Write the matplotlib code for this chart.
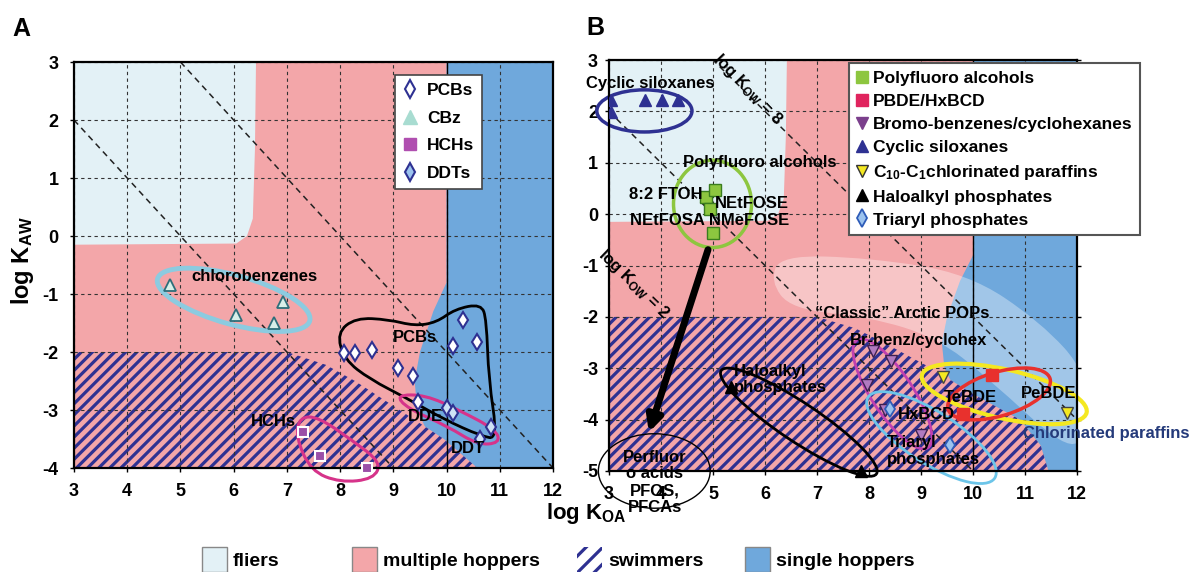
import numpy as np
import matplotlib
matplotlib.use('Agg')
import matplotlib.pyplot as plt
from matplotlib.patches import Ellipse, PathPatch, Rectangle
from matplotlib.path import Path
from matplotlib.lines import Line2D

plt.rcParams['font.family'] = ['Liberation Sans', 'DejaVu Sans']
plt.rcParams['font.weight'] = 'bold'
plt.rcParams['mathtext.fontset'] = 'custom'
plt.rcParams['mathtext.rm'] = 'Liberation Sans:bold'
plt.rcParams['mathtext.it'] = 'Liberation Sans:bold'
plt.rcParams['mathtext.bf'] = 'Liberation Sans:bold'
plt.rcParams['mathtext.default'] = 'rm'
plt.rcParams['hatch.linewidth'] = 2.3
plt.rcParams['axes.unicode_minus'] = False

# colours of the regions
FLIER = '#e3f1f6'
PINK = '#f3a6a9'
BLUE = '#6fa8dc'
NAVY = '#2e3192'

# ---- mobility regions (log KOA, log KAW) ----
flier_x = [3, 6.42, 6.4, 6.36, 6.25, 6.05, 3]
flier_y = [3, 3, 1.5, 0.3, 0.0, -0.13, -0.15]
single_edge_y = [3, -0.8, -1.3, -2.0, -2.5, -3.0, -3.5, -4.0, -4.5, -5.0]
single_edge_x = [10, 10, 9.75, 9.5, 9.4, 9.45, 9.7, 10.3, 10.9, 11.4]
swim_edge_y = [-2.0, -2.22, -2.5, -3.0, -3.5, -4.0, -4.5, -5.0]
swim_edge_xa = [7.0, 7.73, 8.28, 9.12, 9.95, 10.58, 11.0, 11.4]
swim_edge_xb = [7.0, 7.73, 8.28, 9.2, 10.0, 10.9, 11.3, 11.45]
kow_lines = [5, 8]

# ---- panel A compounds ----
pcb_x = [8.07, 8.28, 8.6, 9.08, 9.37, 9.47, 10.12, 10.3, 10.58]
pcb_y = [-2.02, -2.02, -1.97, -2.28, -2.41, -2.86, -1.9, -1.45, -1.83]
ddt_x = [10.0, 10.12, 10.62, 10.83]
ddt_y = [-2.97, -3.05, -3.5, -3.3]
cbz_x = [4.8, 6.05, 6.75, 6.92]
cbz_y = [-0.85, -1.36, -1.5, -1.14]
hch_x = [7.3, 7.62, 8.5]
hch_y = [-3.38, -3.8, -4.0]

pcb_hull_x = [7.94, 8.29, 8.91, 9.4, 9.81, 10.16, 10.65, 10.75, 10.79, 10.96, 10.65, 9.95, 9.26, 8.56, 8.08]
pcb_hull_y = [-1.67, -1.41, -1.44, -1.55, -1.49, -1.26, -1.17, -1.44, -2.47, -3.5, -3.45, -3.16, -2.8, -2.47, -2.13]
dd_hull_x = [9.05, 9.6, 10.23, 10.93, 11.0, 10.58, 10.02, 9.26]
dd_hull_y = [-2.74, -2.74, -3.0, -3.34, -3.57, -3.6, -3.28, -2.97]
hch_hull_x = [7.24, 7.59, 8.22, 8.77, 8.63, 8.0, 7.45, 7.17]
hch_hull_y = [-3.12, -3.12, -3.52, -3.9, -4.19, -4.25, -4.05, -3.47]

# ---- panel B compounds ----
silox_x = [3.04, 3.04, 3.70, 4.02, 4.33]
silox_y = [2.22, 1.99, 2.22, 2.22, 2.22]
pfa_x = [4.87, 5.03, 4.95, 4.99]
pfa_y = [0.34, 0.47, 0.11, -0.37]
halo_x = [5.34, 7.84]
halo_y = [-3.36, -5.01]
brbenz_x = [8.08, 8.43, 7.96, 8.31, 9.0]
brbenz_y = [-2.67, -2.86, -3.32, -3.81, -4.3]
triaryl_x = [8.4, 9.56]
triaryl_y = [-3.8, -4.5]
pbde_x = [10.37, 9.8]
pbde_y = [-3.13, -3.9]
cp_x = [9.43, 11.8]
cp_y = [-3.17, -3.87]

pop_x = [6.3, 8.0, 9.9, 11.3, 12.2, 12.2, 11.8, 10.3, 9.3, 8.0, 6.5, 6.1]
pop_y = [-0.8, -0.85, -1.15, -2.1, -3.1, -4.3, -4.6, -3.2, -2.4, -2.0, -1.85, -1.3]


def smooth_closed(xs, ys):
    pts = np.column_stack([xs, ys])
    mids = (pts + np.roll(pts, -1, axis=0)) / 2
    verts = [mids[-1]]
    codes = [Path.MOVETO]
    for i in range(len(pts)):
        verts += [pts[i], mids[i]]
        codes += [Path.CURVE3, Path.CURVE3]
    return Path(verts, codes)


def draw_regions(ax, ymin, swim_edge_x):
    ax.set_facecolor(PINK)
    ax.fill(flier_x, flier_y, color=FLIER, lw=0, zorder=0.5)
    bx = single_edge_x + [12.5, 12.5]
    by = single_edge_y + [-5.5, 3.5]
    ax.fill(bx, by, color=BLUE, lw=0, zorder=0.5)
    sx = [2.5, 7.0] + swim_edge_x[1:] + [swim_edge_x[-1], 2.5]
    sy = [-2.0, -2.0] + swim_edge_y[1:] + [-5.5, -5.5]
    ax.fill(sx, sy, facecolor=PINK, edgecolor=NAVY, hatch='///', lw=0, zorder=0.6)
    ax.axvline(10, color='black', lw=1.0, zorder=1.6)
    xs = np.array([3.0, 12.0])
    for k in kow_lines:
        ax.plot(xs, k - xs, color='#222222', lw=1.1, ls=(0, (4, 3)), zorder=2)
    ax.set_xlim(3, 12)
    ax.set_ylim(ymin, 3)
    ax.set_xticks(range(3, 13))
    ax.set_yticks(range(ymin, 4))
    ax.grid(True, color='#333333', lw=0.8, ls=(0, (3, 3)))
    for s in ax.spines.values():
        s.set_linewidth(1.6)
    ax.tick_params(labelsize=13, length=3, width=1)


fig = plt.figure(figsize=(11.97, 5.72), dpi=100)
axA = fig.add_axes([0.0618, 0.1818, 0.4002, 0.7098])
axB = fig.add_axes([0.5088, 0.1766, 0.3910, 0.7184])

# ---------------- panel A ----------------
draw_regions(axA, -4, swim_edge_xa)
axA.tick_params(axis='x', pad=8)
axA.tick_params(axis='y', pad=8)

axA.add_patch(Ellipse((6.0, -1.1), 2.95, 0.85, angle=-14, fill=False,
                      ec='#8ccbe0', lw=3.5, zorder=2.5))
axA.add_patch(PathPatch(smooth_closed(pcb_hull_x, pcb_hull_y), fill=False,
                        ec='black', lw=2, zorder=2.5))
axA.add_patch(PathPatch(smooth_closed(dd_hull_x, dd_hull_y), fill=False,
                        ec='#d6338a', lw=2.2, zorder=2.5))
axA.add_patch(PathPatch(smooth_closed(hch_hull_x, hch_hull_y), fill=False,
                        ec='#d6338a', lw=2.2, zorder=2.5, clip_on=False))

axA.plot(pcb_x, pcb_y, 'd', ms=8.5, mfc='white', mec=NAVY, mew=1.5, ls='none', zorder=3)
axA.plot(ddt_x, ddt_y, 'd', ms=8.5, mfc='#cfe2f5', mec=NAVY, mew=1.5, ls='none', zorder=3)
axA.plot(cbz_x, cbz_y, '^', ms=9, mfc='#d8efe9', mec='#2d6e7a', mew=1.3, ls='none', zorder=3)
axA.plot(hch_x, hch_y, 's', ms=7, mfc='#9b4fa8', mec='white', mew=1.5, ls='none',
         zorder=3, clip_on=False)

axA.text(5.2, -0.7, 'chlorobenzenes', fontsize=12, va='center', zorder=4)
axA.text(9.4, -1.75, 'PCBs', fontsize=12, ha='center', va='center', zorder=4)
axA.text(9.6, -3.12, 'DDE', fontsize=12, ha='center', va='center', zorder=4)
axA.text(10.4, -3.67, 'DDT', fontsize=12, ha='center', va='center', zorder=4)
axA.text(6.75, -3.2, 'HCHs', fontsize=12, ha='center', va='center', zorder=4)

legA = [
    Line2D([], [], marker='d', ls='none', ms=9, mfc='white', mec=NAVY, mew=1.5, label='PCBs'),
    Line2D([], [], marker='^', ls='none', ms=10, mfc='#a8dcd1', mec='#a8dcd1', label='CBz'),
    Line2D([], [], marker='s', ls='none', ms=8, mfc='#b04fb0', mec='#b04fb0', label='HCHs'),
    Line2D([], [], marker='d', ls='none', ms=9, mfc='#9cc3ee', mec=NAVY, mew=1.5, label='DDTs'),
]
lg = axA.legend(handles=legA, loc='upper left', bbox_to_anchor=(0.67, 0.968),
                fontsize=12.5, frameon=True, fancybox=False, framealpha=1,
                edgecolor='#444444', handlelength=0.8, handletextpad=0.6,
                labelspacing=0.72, borderpad=0.45, borderaxespad=0)
lg.get_frame().set_linewidth(1.2)
lg.set_zorder(5)

# ---------------- panel B ----------------
draw_regions(axB, -5, swim_edge_xb)
axB.add_patch(PathPatch(smooth_closed(pop_x, pop_y), facecolor='white', alpha=0.35,
                        lw=0, zorder=0.7))
axB.tick_params(axis='y', right=True, labelright=True, pad=5)
for t in axB.yaxis.get_major_ticks():
    t.label2.set_fontsize(13)
    if 0 <= t.get_loc() <= 2:
        t.label2.set_visible(False)
axB.tick_params(axis='x', pad=8)

ell = [((3.68, 2.01), 1.83, 0.82, 0, NAVY, 2.5),
       ((4.99, 0.2), 1.5, 1.7, 0, '#8dc63f', 2.5),
       ((3.87, -5.0), 2.15, 1.45, 0, 'black', 1.0),
       ((6.65, -4.05), 3.6, 0.75, -34, 'black', 2.0),
       ((8.45, -3.5), 2.5, 0.8, -57, '#c040b0', 2.0),
       ((9.2, -4.35), 2.9, 1.0, -33, '#6cc5e9', 2.0),
       ((10.6, -3.5), 3.25, 0.95, -13, '#f4e821', 3.0),
       ((10.5, -3.5), 2.05, 0.85, 17, '#e8312d', 2.5)]
for c, w, h, a, col, lw in ell:
    axB.add_patch(Ellipse(c, w, h, angle=a, fill=False, ec=col, lw=lw,
                          zorder=2.5, clip_on=False))

axB.annotate('', xy=(3.75, -4.3), xytext=(4.92, -0.64),
             arrowprops=dict(arrowstyle='-|>', lw=5, color='black', mutation_scale=22),
             zorder=3)

axB.plot(silox_x, silox_y, '^', ms=9, mfc=NAVY, mec=NAVY, ls='none', zorder=3)
axB.plot(pfa_x, pfa_y, 's', ms=8, mfc='#8dc63f', mec='#3a7d1e', mew=1, ls='none', zorder=3)
axB.plot(halo_x, halo_y, '^', ms=9, mfc='black', mec='black', ls='none', zorder=3, clip_on=False)
axB.plot(brbenz_x, brbenz_y, 'v', ms=9, mfc='#b07ac0', mec='#3d2050', mew=1, ls='none', zorder=3)
axB.plot(triaryl_x, triaryl_y, 'd', ms=8, mfc='#9cc3ee', mec='#2e5cb8', mew=1.3, ls='none', zorder=3)
axB.plot(pbde_x, pbde_y, 's', ms=8, mfc='#e8312d', mec='#e8312d', ls='none', zorder=3)
axB.plot(cp_x, cp_y, 'v', ms=9, mfc='#f4e821', mec='#444444', mew=1, ls='none', zorder=3)

tkw = dict(fontsize=12, zorder=4, clip_on=False)
axB.text(3.8, 2.55, 'Cyclic siloxanes', ha='center', va='center', **tkw)
axB.text(5.9, 1.0, 'Polyfluoro alcohols', ha='center', va='center', **tkw)
axB.text(4.8, 0.39, '8:2 FTOH', ha='right', va='center', **tkw)
axB.text(5.04, 0.2, 'NEtFOSE', ha='left', va='center', **tkw)
axB.text(3.4, -0.13, 'NEtFOSA NMeFOSE', ha='left', va='center', **tkw)
axB.text(3.88, -5.22, 'Perfluor\no acids\nPFOS,\nPFCAs', ha='center', va='center',
         multialignment='center', linespacing=1.15, **tkw)
axB.text(5.4, -3.22, 'Haloalkyl\nphosphates', ha='left', va='center', linespacing=1.15, **tkw)
axB.text(8.63, -1.93, '\u201cClassic\u201d Arctic POPs', ha='center', va='center', **tkw)
axB.text(8.95, -2.45, 'Br-benz/cyclohex', ha='center', va='center', **tkw)
axB.text(9.95, -3.57, 'TeBDE', ha='center', va='center', **tkw)
axB.text(11.45, -3.5, 'PeBDE', ha='center', va='center', **tkw)
axB.text(9.1, -3.9, 'HxBCD', ha='center', va='center', **tkw)
axB.text(8.35, -4.61, 'Triaryl\nphosphates', ha='left', va='center', linespacing=1.15, **tkw)
axB.text(10.97, -4.27, 'Chlorinated paraffins', ha='left', va='center', color='#243a7a', **tkw)
axB.text(5.66, 2.43, 'log K$_{OW}$ = 8', ha='center', va='center', rotation=-46, **tkw)
axB.text(3.47, -1.36, 'log K$_{OW}$ = 2', ha='center', va='center', rotation=-44, **tkw)

legB = [
    Line2D([], [], marker='s', ls='none', ms=8, mfc='#8dc63f', mec='#8dc63f', label='Polyfluoro alcohols'),
    Line2D([], [], marker='s', ls='none', ms=8, mfc='#e0245e', mec='#e0245e', label='PBDE/HxBCD'),
    Line2D([], [], marker='v', ls='none', ms=9, mfc='#7b3f8c', mec='#7b3f8c', label='Bromo-benzenes/cyclohexanes'),
    Line2D([], [], marker='^', ls='none', ms=9, mfc=NAVY, mec=NAVY, label='Cyclic siloxanes'),
    Line2D([], [], marker='v', ls='none', ms=9, mfc='#f4e821', mec='#333333', label='C$_{10}$-C$_1$chlorinated paraffins'),
    Line2D([], [], marker='^', ls='none', ms=9, mfc='black', mec='black', label='Haloalkyl phosphates'),
    Line2D([], [], marker='d', ls='none', ms=9, mfc='#9cc3ee', mec='#2e5cb8', mew=1.3, label='Triaryl phosphates'),
]
lgB = axB.legend(handles=legB, loc='upper left', bbox_to_anchor=(0.513, 0.993),
                 fontsize=12.5, frameon=True, fancybox=False, framealpha=1,
                 edgecolor='#555555', handlelength=0.6, handletextpad=0.3,
                 labelspacing=0.45, borderpad=0.45, borderaxespad=0)
lgB.get_frame().set_linewidth(1.5)
lgB.set_zorder(5)

# ---------------- figure texts ----------------
fig.text(0.018, 0.949, 'A', fontsize=18, ha='center', va='center')
fig.text(0.497, 0.951, 'B', fontsize=18, ha='center', va='center')
fig.text(0.019, 0.545, 'log K$_{AW}$', fontsize=17, rotation=90, ha='center', va='center')
fig.text(0.490, 0.103, 'log K$_{OA}$', fontsize=16, ha='center', va='center')

# bottom key for the regions
key_labels = ['fliers', 'multiple hoppers', 'swimmers', 'single hoppers']
key_colors = [FLIER, PINK, 'white', BLUE]
key_x = [202, 352, 577, 745]
for lab, col, px in zip(key_labels, key_colors, key_x):
    x0 = px / 1197
    if lab == 'swimmers':
        r = Rectangle((x0, 0.0), 25 / 1197, 25 / 572, transform=fig.transFigure,
                      facecolor=col, edgecolor=NAVY, hatch='//', lw=0)
    else:
        r = Rectangle((x0, 0.0), 25 / 1197, 25 / 572, transform=fig.transFigure,
                      facecolor=col, edgecolor='#888888', lw=1)
    fig.patches.append(r)
    fig.text(x0 + 31 / 1197, 0.019, lab, fontsize=14, ha='left', va='center')

fig.savefig('out.png', dpi=100)
